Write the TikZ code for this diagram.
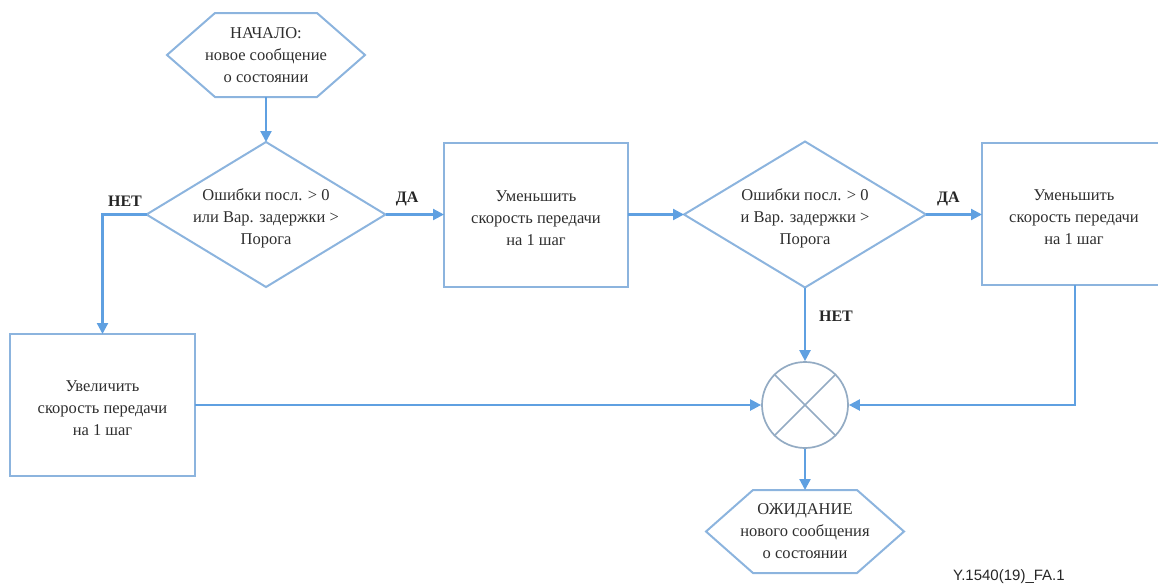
\documentclass[tikz,border=0pt]{standalone}
\usepackage{fontspec}
\setmainfont{Liberation Serif}
\newfontfamily\footfont{Liberation Sans}
\usetikzlibrary{shapes.geometric,arrows.meta}
\definecolor{frameblue}{RGB}{140,180,222}
\definecolor{flowblue}{RGB}{95,160,225}
\definecolor{xgray}{RGB}{120,150,180}
\tikzset{
  base/.style={inner sep=0pt, outer sep=0pt, font=\fontsize{16.5}{22}\selectfont, text=black!82, align=center},
  inbox/.style={base, yshift=-3.5pt},
  stepbox/.style={base, draw=frameblue, line width=2pt, minimum width=184pt, minimum height=142pt},
  decision/.style={base, diamond, draw=frameblue, line width=2pt, minimum width=239pt, minimum height=145pt},
  hexbox/.style={base, minimum width=198pt, minimum height=84pt},
  hexline/.style={draw=frameblue, line width=2pt, line join=miter},
  joiner/.style={circle, draw=xgray!80, line width=1.7pt, minimum size=86pt, inner sep=0pt},
  flow/.style={draw=flowblue, line width=2.2pt, -{Triangle[length=11pt,width=11pt]}},
  answer/.style={font=\bfseries\fontsize{16}{18}\selectfont, text=black!85, inner sep=0pt}
}
\begin{document}
\begin{tikzpicture}[x=1pt,y=-1pt]
\useasboundingbox (0,0) rectangle (1158,587);

% start and end terminals (hexagons)
\node[hexbox] (start) at (266,55) {НАЧАЛО:\\новое сообщение\\о состоянии};
\draw[hexline] (start.west) -- ([xshift=48pt]start.north west) -- ([xshift=-48pt]start.north east)
  -- (start.east) -- ([xshift=-48pt]start.south east) -- ([xshift=48pt]start.south west) -- cycle;

\node[hexbox, minimum height=83pt] (wait) at (805,531.5) {ОЖИДАНИЕ\\нового сообщения\\о состоянии};
\draw[hexline] (wait.west) -- ([xshift=47pt]wait.north west) -- ([xshift=-47pt]wait.north east)
  -- (wait.east) -- ([xshift=-47pt]wait.south east) -- ([xshift=47pt]wait.south west) -- cycle;

% decisions
\node[decision, label={[inbox]center:Ошибки посл. > 0\\или Вар. задержки >\\Порога}] (d1) at (266,214.5) {};
\node[decision, minimum width=242pt, minimum height=146pt,
      label={[inbox]center:Ошибки посл. > 0\\и Вар. задержки >\\Порога}] (d2) at (805,214.5) {};

% actions
\node[stepbox, minimum height=144pt, label={[inbox]center:Уменьшить\\скорость передачи\\на 1 шаг}] (dec1) at (536,214.5) {};
\node[stepbox, label={[inbox]center:Уменьшить\\скорость передачи\\на 1 шаг}] (dec2) at (1074,214) {};
\node[stepbox, minimum width=185pt, label={[inbox]center:Увеличить\\скорость передачи\\на 1 шаг}] (inc) at (102.5,405) {};

% merge point
\node[joiner] (mix) at (805,405) {};
\draw[xgray!80, line width=1.7pt] (mix.45) -- (mix.225) (mix.135) -- (mix.315);

% connectors
\draw[flow] (start.south) -- (d1.north);
\draw[flow] (d1.east) -- node[answer, above=7pt, pos=0.37] (yes1) {ДА} (dec1.west);
\coordinate (nbend) at (102.5,214.5);
\draw[flow] (d1.west) -- (nbend) -- (inc.north);
\node[answer, anchor=south] (no1) at (125,207) {НЕТ};
\draw[flow] (dec1.east) -- (d2.west);
\draw[flow] (d2.east) -- node[answer, above=7pt, pos=0.4] (yes2) {ДА} (d2.east -| dec2.west);
\draw[flow] (d2.south) -- (mix.north);
\node[answer] (no2) at (836,316) {НЕТ};
\draw[flow] (inc.east) -- (inc.east -| mix.west);
\coordinate (rbend) at (1075,405);
\draw[flow] (1075,285) -- (rbend) -- (mix.east);
\draw[flow] (mix.south) -- (wait.north);

% figure tag
\node[font=\footfont\fontsize{15}{16}\selectfont, text=black!85, anchor=west, inner sep=0pt] (tag) at (953,577) {Y.1540(19)\_FA.1};
\end{tikzpicture}
\end{document}
